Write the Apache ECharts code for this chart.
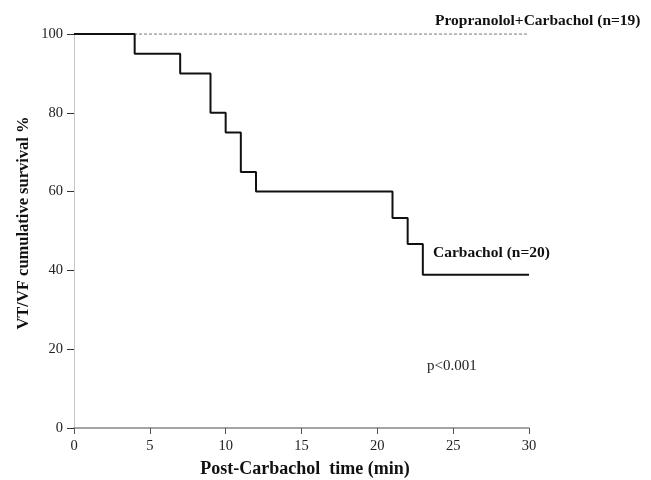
<!DOCTYPE html>
<html><head><meta charset="utf-8">
<script src="https://cdn.jsdelivr.net/npm/echarts@6/dist/echarts.min.js"></script>
<style>html,body{margin:0;padding:0;background:#fff}#c{width:651px;height:480px}</style>
</head><body><div id="c"></div>
<script>
// Kaplan-Meier steps (time in min, survival %)
const carbTimes = [0, 4, 7, 9, 10, 11, 12, 21, 22, 23, 30];
const carbSurv  = [100, 95, 90, 80, 75, 65, 60, 53.3, 46.7, 38.9, 38.9];
const propTimes = [0, 30];
const propSurv  = [100, 100];
const xTicks = [0, 5, 10, 15, 20, 25, 30];
const yTicks = [0, 20, 40, 60, 80, 100];
const labels = {
  prop: 'Propranolol+Carbachol (n=19)',
  carb: 'Carbachol (n=20)',
  p: 'p<0.001',
  x: 'Post-Carbachol  time (min)',
  y: 'VT/VF cumulative survival %'
};

const serif = '"Liberation Serif", "DejaVu Serif", serif';
const chart = echarts.init(document.getElementById('c'));
chart.setOption({
  animation: false,
  grid: {left: 74, right: 122, top: 34, bottom: 52},
  xAxis: {
    type: 'value', min: 0, max: 30, interval: 5,
    axisLine: {lineStyle: {color: '#888', width: 1.5}},
    axisTick: {show: true, length: 6, lineStyle: {color: '#555'}},
    axisLabel: {color: '#222', fontFamily: serif, fontSize: 14.5, margin: 11,
      formatter: v => xTicks.includes(v) ? String(v) : ''},
    splitLine: {show: false}
  },
  yAxis: {
    type: 'value', min: 0, max: 100, interval: 20,
    axisLine: {show: true, lineStyle: {color: '#c8c8c8', width: 1}},
    axisTick: {show: true, length: 7, lineStyle: {color: '#333'}},
    axisLabel: {color: '#222', fontFamily: serif, fontSize: 14.5, margin: 11,
      formatter: v => yTicks.includes(v) ? String(v) : ''},
    splitLine: {show: false}
  },
  series: [
    {
      type: 'line', step: 'end', symbol: 'none', z: 2,
      data: propTimes.map((t, i) => [t, propSurv[i]]),
      lineStyle: {color: '#999', width: 1.5, type: [3, 2]}
    },
    {
      type: 'line', step: 'end', symbol: 'none', z: 3,
      data: carbTimes.map((t, i) => [t, carbSurv[i]]),
      lineStyle: {color: '#111', width: 2}
    }
  ],
  graphic: [
    {type: 'text', x: 435, y: 21, style: {text: labels.prop, font: 'bold 15.5px ' + serif, fill: '#111', verticalAlign: 'middle'}},
    {type: 'text', x: 433, y: 253, style: {text: labels.carb, font: 'bold 15.5px ' + serif, fill: '#111', verticalAlign: 'middle'}},
    {type: 'text', x: 427, y: 366, style: {text: labels.p, font: '15px ' + serif, fill: '#222', verticalAlign: 'middle'}},
    {type: 'text', x: 305, y: 469, style: {text: labels.x, font: 'bold 18px ' + serif, fill: '#111', align: 'center', verticalAlign: 'middle'}},
    {type: 'text', x: 24, y: 223, rotation: Math.PI / 2, style: {text: labels.y, font: 'bold 16.5px ' + serif, fill: '#111', align: 'center', verticalAlign: 'middle'}}
  ]
});
</script></body></html>
